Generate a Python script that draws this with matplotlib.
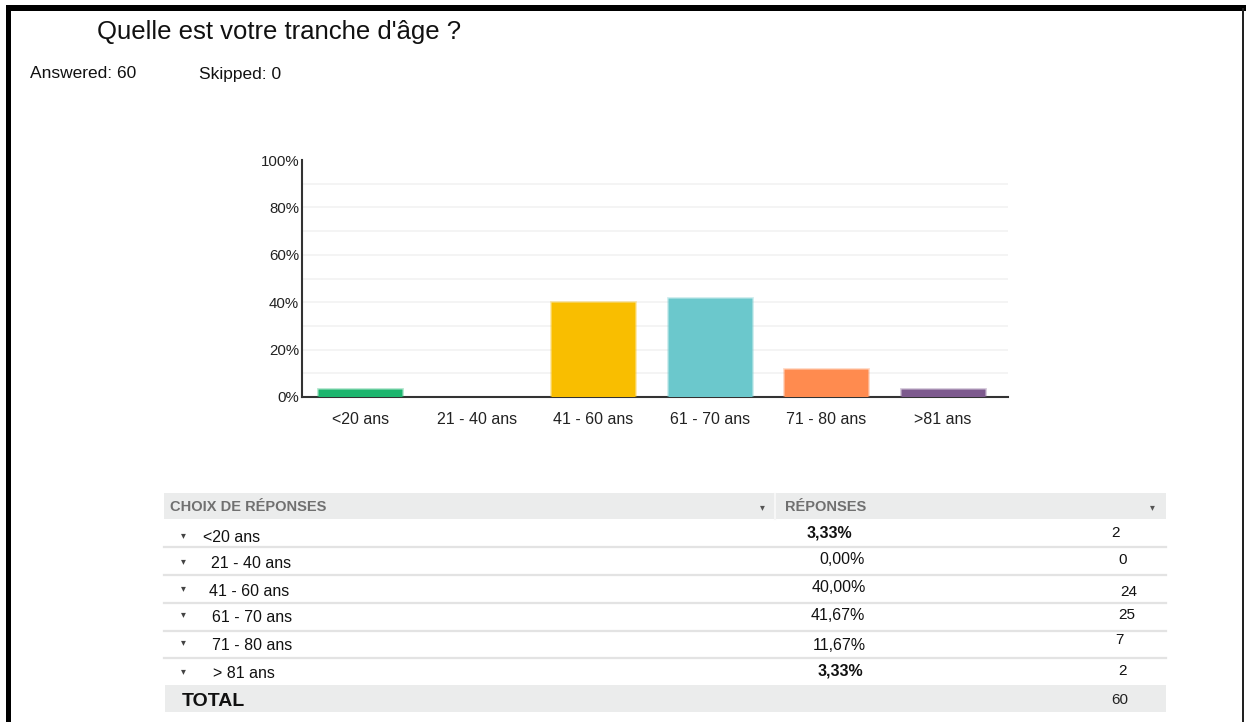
import matplotlib
matplotlib.use("Agg")
import matplotlib.pyplot as plt
from matplotlib.patches import Rectangle
from matplotlib.lines import Line2D

W, H = 1246, 722
plt.rcParams['font.family'] = ['Liberation Sans', 'DejaVu Sans']

title = "Quelle est votre tranche d'âge ?"
answered_text = "Answered: 60"
skipped_text = "Skipped: 0"
categories = ["<20 ans", "21 - 40 ans", "41 - 60 ans", "61 - 70 ans", "71 - 80 ans", ">81 ans"]
percent_values = [3.33, 0.0, 40.0, 41.67, 11.67, 3.33]
bar_colors = ["#1DB56E", "#F9BE00", "#F9BE00", "#6BC8CC", "#FF8B4F", "#7D5A8E"]
y_ticks = [0, 20, 40, 60, 80, 100]
y_tick_labels = ["0%", "20%", "40%", "60%", "80%", "100%"]

table_header = ["CHOIX DE RÉPONSES", "RÉPONSES"]
row_labels = ["<20 ans", "21 - 40 ans", "41 - 60 ans", "61 - 70 ans", "71 - 80 ans", "> 81 ans"]
row_percents = ["3,33%", "0,00%", "40,00%", "41,67%", "11,67%", "3,33%"]
row_counts = ["2", "0", "24", "25", "7", "2"]
total_label = "TOTAL"
total_count = "60"

fig = plt.figure(figsize=(W / 100, H / 100), dpi=100)
fig.patch.set_facecolor("white")


def P(x, y):
    return (x / W, 1 - y / H)


# outer frame
fig.add_artist(Rectangle(P(6, 11), (1246 - 6) / W, 6 / H, color="black", lw=0))
fig.add_artist(Rectangle(P(6, 722), 5 / W, (722 - 5) / H, color="black", lw=0))
fig.add_artist(Rectangle(P(1242, 722), 2 / W, (722 - 8) / H, color="#222222", lw=0))

# titles
fig.text(*P(97, 32), title, fontsize=18.5, va="center", ha="left", color="#111111")
fig.text(*P(30, 74), answered_text, fontsize=12.5, va="center", ha="left", color="#111111")
fig.text(*P(199, 74), skipped_text, fontsize=12.5, va="center", ha="left", color="#111111")

# chart
ax_left, ax_right, ax_top, ax_bottom = 302, 1008, 160, 397
ax = fig.add_axes([ax_left / W, 1 - ax_bottom / H, (ax_right - ax_left) / W, (ax_bottom - ax_top) / H])
x = list(range(len(categories)))
edge_cols = [(c + "55") if v > 0 else "none" for c, v in zip(bar_colors, percent_values)]
ax.bar(x, percent_values, width=0.72, color=bar_colors, zorder=3,
       edgecolor=edge_cols, linewidth=2)
ax.set_xlim(-0.5, 5.56)
ax.set_ylim(0, 100)
for g in range(10, 100, 10):
    ax.axhline(g, color="#f2f2f2", lw=1.2, zorder=1)
ax.set_yticks(y_ticks)
ax.set_yticklabels(y_tick_labels, fontsize=10.8, color="#222222")
ax.set_xticks(x)
ax.set_xticklabels(categories, fontsize=11.5, color="#222222")
ax.tick_params(axis="y", length=0, pad=2)
ax.tick_params(axis="x", length=0, pad=11)
for s in ["top", "right"]:
    ax.spines[s].set_visible(False)
ax.spines["left"].set_color("#333333")
ax.spines["bottom"].set_color("#333333")
ax.spines["left"].set_linewidth(1.5)
ax.spines["bottom"].set_linewidth(1.5)

# table
tx0, tx1 = 164, 1166
fig.add_artist(Rectangle(P(tx0, 519), (tx1 - tx0) / W, 26 / H, color="#EBECEC", lw=0, zorder=0))
fig.add_artist(Line2D([775 / W, 775 / W], [1 - 494 / H, 1 - 519 / H], color="#f7f7f7", lw=1.5))
fig.text(*P(170, 507), table_header[0], fontsize=10.5, fontweight="bold", color="#707070", va="center")
fig.text(*P(785, 507), table_header[1], fontsize=10.5, fontweight="bold", color="#707070", va="center")
fig.text(*P(762, 507), "▾", fontsize=7, color="#555555", va="center", ha="center", family="DejaVu Sans")
fig.text(*P(1152, 507), "▾", fontsize=7, color="#555555", va="center", ha="center", family="DejaVu Sans")

row_y = [538, 564, 591, 617, 645, 674]
label_x = [203, 211, 209, 212, 212, 213]
pct_right = [852, 865, 866, 865, 866, 863]
pct_y = [533, 560, 587, 615, 646, 671]
cnt_x = [1111, 1118, 1120, 1118, 1115, 1118]
cnt_y = [533, 560, 592, 615, 640, 671]
seps = [547, 575, 603, 631, 658]
for yy in seps:
    fig.add_artist(Line2D([tx0 / W, tx1 / W], [1 - yy / H] * 2, color="#e3e3e3", lw=1.6))
for i, lab in enumerate(row_labels):
    fig.text(*P(183, row_y[i] - 3), "▾", fontsize=7, color="#444444", va="center", ha="center",
             family="DejaVu Sans")
    fig.text(*P(label_x[i], row_y[i]), lab, fontsize=11.5, color="#111111", va="center")
    bold = "bold" if i in (0, 5) else "normal"
    fig.text(*P(pct_right[i], pct_y[i]), row_percents[i], fontsize=11.5, fontweight=bold,
             color="#111111", va="center", ha="right")
    fig.text(*P(cnt_x[i], cnt_y[i]), row_counts[i], fontsize=11, color="#111111", va="center",
             ha="left")

fig.add_artist(Rectangle(P(165, 712), (tx1 - 165) / W, 27 / H, color="#EBECEC", lw=0, zorder=0))
fig.text(*P(182, 701), total_label, fontsize=14, fontweight="bold", color="#111111", va="center")
fig.text(*P(1111, 700), total_count, fontsize=11, color="#222222", va="center")

fig.savefig("out.png", dpi=100, facecolor="white")
